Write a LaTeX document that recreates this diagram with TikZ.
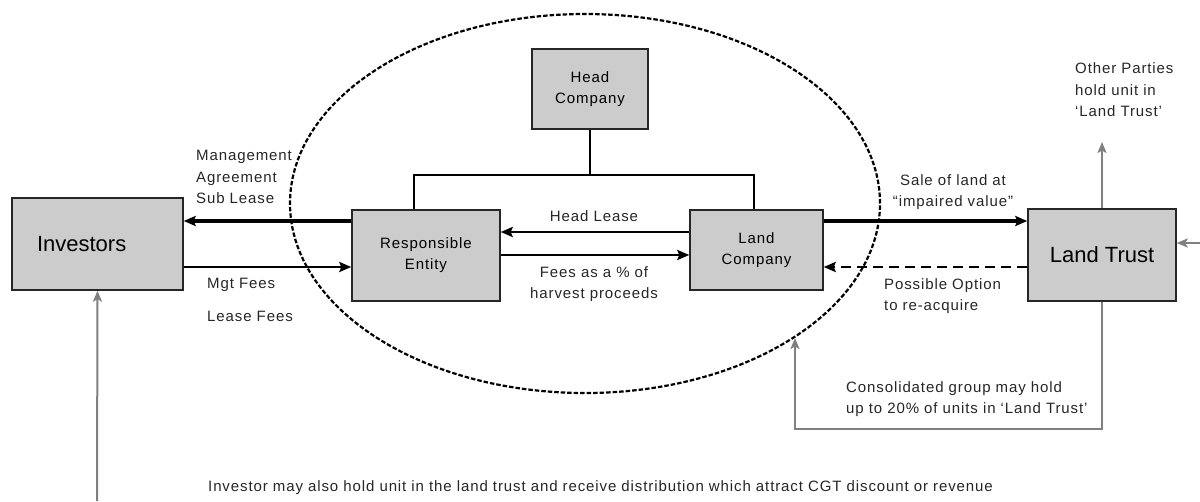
\documentclass[tikz,border=0pt]{standalone}
\usepackage{fontspec}
\setmainfont{Liberation Sans}
\newfontfamily\widefont[LetterSpace=6]{Liberation Sans}
\usetikzlibrary{arrows.meta}

\begin{document}
\begin{tikzpicture}[
    x=1pt, y=-1pt,
    box/.style={rectangle, draw=black!85, line width=1.4pt, fill=black!20,
        align=center, inner sep=0pt, font=\widefont\fontsize{15}{21}\selectfont},
    bigbox/.style={box, font=\fontsize{22}{26}\selectfont},
    lbl/.style={align=left, inner sep=0pt, text=black!85,
        font=\widefont\fontsize{15}{21.5}\selectfont},
    flow/.style={line width=2.5pt, -{Stealth[length=12pt,width=10pt,inset=2pt]}},
    bigflow/.style={flow, line width=4pt},
    option/.style={flow, dash pattern=on 10pt off 6pt},
    holding/.style={draw=black!50, line width=2pt, -{Stealth[length=11pt,width=9pt,inset=2.5pt]}},
    tie/.style={line width=1.2pt}
]
    \useasboundingbox (0,0) rectangle (1200,501);

    % consolidated group
    \draw[line width=2.2pt, dash pattern=on 4.5pt off 2pt] (585,203.5) ellipse [x radius=295pt, y radius=189.5pt];

    \node[bigbox, minimum width=171pt, minimum height=92pt, text width=121pt, inner xsep=25pt, align=left] (inv) at (97.5,244) {Investors};
    \node[box, minimum width=148pt, minimum height=91pt] (re) at (426,255.5) {Responsible\\Entity};
    \node[box, minimum width=116pt, minimum height=80pt] (head) at (590,89) {Head\\Company};
    \node[box, minimum width=133pt, minimum height=80pt] (lc) at (756.5,250) {Land\\Company};
    \node[bigbox, minimum width=148pt, minimum height=92pt] (lt) at (1102,255) {Land Trust};

    \coordinate (rowA) at (0,221);
    \coordinate (rowB) at (0,267);
    \coordinate (rowC) at (0,232);
    \coordinate (rowD) at (0,255);
    \coordinate (busL) at (414,175);
    \coordinate (busR) at (754,175);
    \coordinate (othTip) at (1102,142);
    \coordinate (outside) at (1200,243);
    \coordinate (grpTip) at (795,338);
    \coordinate (invBase) at (97,501);

    % ownership lines
    \draw[tie] (head.south) -- (head.south |- busL);
    \draw[tie] (busL |- re.north) -- (busL) -- (busR) -- (busR |- lc.north);

    % flows
    \draw[bigflow] (re.west |- rowA) -- (inv.east |- rowA);
    \draw[flow] (inv.east |- rowB) -- (re.west |- rowB);
    \draw[flow] (lc.west |- rowC) -- (re.east |- rowC);
    \draw[flow] (re.east |- rowD) -- (lc.west |- rowD);
    \draw[bigflow] (lc.east |- rowA) -- (lt.west |- rowA);
    \draw[option] (lt.west |- rowB) -- (lc.east |- rowB);

    % unit holdings
    \draw[holding] (lt.north) -- (othTip);
    \draw[holding] (outside) -- (lt.east |- outside);
    \draw[holding] (lt.south) -- ++(0,127) -| (grpTip);
    \draw[holding] (invBase) -- (inv.south);

    % labels
    \node[lbl, anchor=north west] (mgmt) at (196,150) {Management\\Agreement\\Sub Lease};
    \node[lbl, anchor=west] (mgtfee) at (207,285) {Mgt Fees};
    \node[lbl, anchor=west] (leasefee) at (207,316) {Lease Fees};
    \node[lbl] (headlease) at (594,216) {Head Lease};
    \node[lbl, align=center] (fees) at (594,284) {Fees as a \% of\\harvest proceeds};
    \node[lbl, align=center] (sale) at (953,192) {Sale of land at\\“impaired value”};
    \node[lbl, anchor=west] (option) at (884,296) {Possible Option\\to re-acquire};
    \node[lbl, anchor=west] (others) at (1075,90) {Other Parties\\hold unit in\\‘Land Trust’};
    \node[lbl, anchor=west] (group) at (846,399) {Consolidated group may hold\\up to 20\% of units in ‘Land Trust’};
    \node[lbl, anchor=west] (invnote) at (208,488) {Investor may also hold unit in the land trust and receive distribution which attract CGT discount or revenue};
\end{tikzpicture}
\end{document}
